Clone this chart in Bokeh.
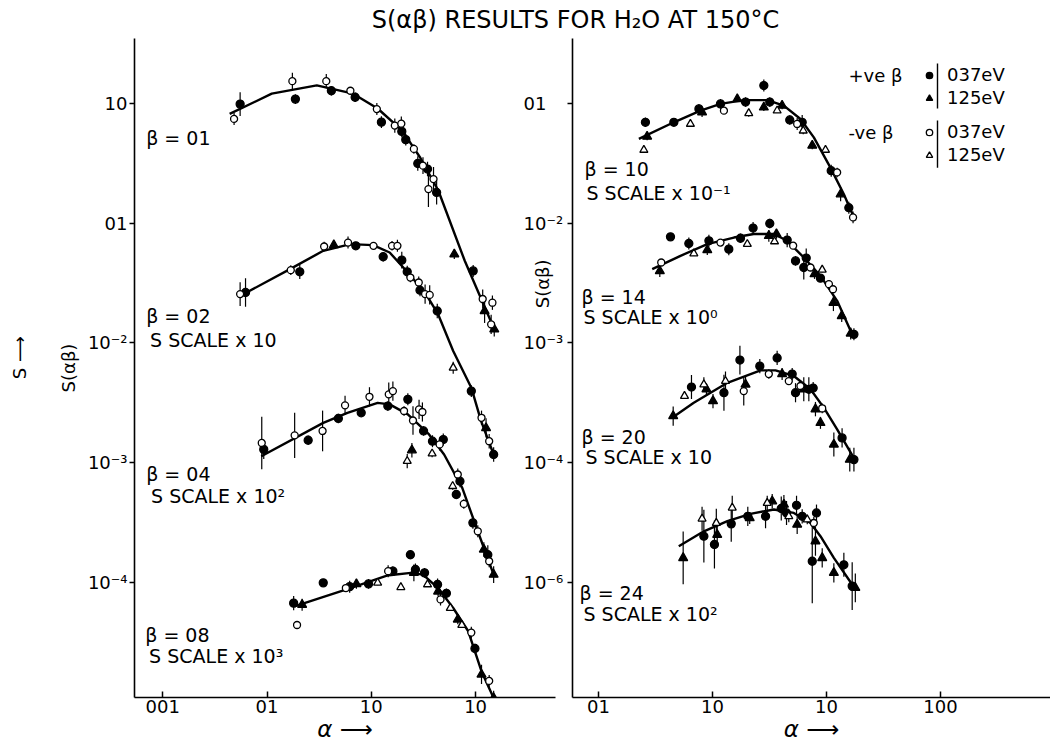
import math
from bokeh.plotting import figure
from bokeh.models import (ColumnDataSource, FixedTicker, Label, Legend, LegendItem, BoxAnnotation,
                          Range1d, LogScale, LogAxis)
from bokeh.layouts import column, row
from bokeh.embed import file_html
from bokeh.resources import INLINE

# ---------------- data (S already scaled as plotted) ----------------
# kinds: P1 = +ve beta 0.037 eV (filled circle), P2 = +ve beta 1.25 eV (filled triangle)
#        N1 = -ve beta 0.037 eV (open circle),   N2 = -ve beta 1.25 eV (open triangle)

# beta = 0.1
b01_fit_alpha = [0.0438, 0.111, 0.30, 0.67, 1.15, 1.98, 2.95, 4.40, 7.87, 14.9]
b01_fit_S = [0.82, 1.21, 1.42, 1.21, 0.91, 0.594, 0.353, 0.187, 0.0486, 0.0134]
b01_alpha = [0.0483, 0.0552, 0.175, 0.187, 0.37, 0.414, 0.63, 0.70, 1.13, 1.25, 1.68, 1.94, 1.96, 2.14,
             2.56, 2.79, 3.13, 3.46, 3.95, 3.53, 4.23, 6.25, 9.48, 11.7, 12.2, 14.5, 14.1, 15.1]
b01_S = [0.745, 0.99, 1.54, 1.09, 1.54, 1.28, 1.28, 1.13, 0.90, 0.70, 0.655, 0.68, 0.586, 0.50,
         0.418, 0.316, 0.303, 0.284, 0.234, 0.193, 0.181, 0.0552, 0.040, 0.0233, 0.0185, 0.0217, 0.0143, 0.013]
b01_err = [0.05, 0.10, 0.07, 0.04, 0.06, 0.04, 0.03, 0.04, 0.05, 0.05, 0.06, 0.06, 0.05, 0.05,
           0.04, 0.06, 0.07, 0.06, 0.10, 0.15, 0.10, 0.04, 0.05, 0.08, 0.10, 0.06, 0.08, 0.06]
b01_kind = ["N1", "P1", "N1", "P1", "N1", "P1", "N1", "P1", "N1", "P1", "N1", "N1", "P1", "P1",
            "N1", "P1", "N1", "P1", "N1", "N1", "P1", "P2", "P1", "N1", "P2", "N1", "N1", "P2"]

# beta = 0.2 (S scale x 10)
b02_fit_alpha = [0.0552, 0.166, 0.346, 0.63, 1.04, 1.50, 2.24, 3.34, 4.37, 6.10, 9.10, 11.3, 14.9]
b02_fit_S = [0.0247, 0.0414, 0.0589, 0.067, 0.0657, 0.057, 0.0388, 0.0256, 0.0174, 0.00857, 0.00423, 0.00222, 0.00117]
b02_alpha = [0.0552, 0.0622, 0.169, 0.206, 0.353, 0.437, 0.598, 0.71, 1.05, 1.30, 1.58, 1.78, 1.96,
             2.21, 2.37, 2.85, 2.93, 3.28, 3.63, 4.29, 6.1, 9.1, 11.4, 12.6, 13.5, 14.9]
b02_S = [0.0256, 0.0264, 0.0406, 0.0393, 0.064, 0.0657, 0.069, 0.0648, 0.0648, 0.0525, 0.0648, 0.0648, 0.0492,
         0.0393, 0.0352, 0.032, 0.0276, 0.0256, 0.0252, 0.0185, 0.0062, 0.00396, 0.00237, 0.00195, 0.00151, 0.00117]
b02_err = [0.10, 0.12, 0.04, 0.06, 0.04, 0.03, 0.05, 0.03, 0.03, 0.04, 0.04, 0.05, 0.07,
           0.05, 0.04, 0.05, 0.05, 0.08, 0.08, 0.06, 0.05, 0.05, 0.06, 0.08, 0.06, 0.06]
b02_kind = ["N1", "P1", "N1", "P1", "N1", "P2", "N1", "P1", "N1", "P1", "N1", "N1", "P1",
            "P1", "N1", "N1", "P1", "N1", "N1", "P1", "N2", "P1", "N1", "P2", "N1", "P1"]

# beta = 0.4 (S scale x 10^2)
b04_fit_alpha = [0.088, 0.346, 0.59, 1.15, 1.50, 2.24, 3.58, 4.99, 7.45, 10.5, 14.9]
b04_fit_S = [0.00113, 0.00215, 0.00261, 0.00316, 0.00307, 0.00253, 0.00172, 0.00117, 0.000615, 0.000267, 0.000116]
b04_alpha = [0.089, 0.093, 0.184, 0.248, 0.341, 0.483, 0.56, 0.80, 0.96, 1.44, 1.47, 1.61, 2.06, 2.24,
             2.51, 2.87, 3.09, 2.45, 2.21, 3.17, 3.86, 3.83, 4.52, 4.9, 6.75, 7.08, 6.03, 6.53, 7.71,
             9.42, 10.5, 12.0, 13.1, 13.5, 14.9]
b04_S = [0.00146, 0.00129, 0.00169, 0.00154, 0.00184, 0.00234, 0.00301, 0.00261, 0.00355, 0.00297, 0.00372,
         0.00396, 0.0027, 0.00338, 0.00225, 0.00279, 0.00265, 0.00127, 0.00103, 0.00184, 0.00151, 0.00119,
         0.00142, 0.00156, 0.000796, 0.0007, 0.000636, 0.000542, 0.000452, 0.000314, 0.000267, 0.000188,
         0.00017, 0.00015, 0.000116]
b04_err = [0.22, 0.08, 0.19, 0.04, 0.17, 0.04, 0.08, 0.03, 0.08, 0.04, 0.10, 0.08, 0.04, 0.05,
           0.12, 0.08, 0.08, 0.06, 0.06, 0.04, 0.05, 0.03, 0.05, 0.05, 0.05, 0.05, 0.03, 0.03, 0.04,
           0.05, 0.05, 0.06, 0.08, 0.05, 0.07]
b04_kind = ["N1", "P1", "N1", "P1", "N1", "P1", "N1", "P1", "N1", "P1", "N1", "N1", "N1", "P1",
            "N1", "N1", "N1", "P2", "N2", "P1", "P1", "N2", "N1", "P1", "N1", "P1", "N2", "P1", "N1",
            "P1", "N1", "P2", "P1", "N1", "P2"]

# beta = 0.8 (S scale x 10^3)
b08_fit_alpha = [0.183, 0.63, 1.41, 2.40, 3.13, 4.37, 6.10, 8.51, 11.4, 14.9]
b08_fit_S = [6.3e-5, 8.96e-5, 1.14e-4, 1.2e-4, 1.16e-4, 8.96e-5, 6.1e-5, 3.9e-5, 1.8e-5, 1.08e-5]
b08_alpha = [0.18, 0.217, 0.194, 0.346, 0.57, 0.62, 0.72, 0.94, 1.15, 1.45, 1.61, 1.92, 2.37, 2.56,
             2.65, 3.24, 3.46, 4.32, 4.37, 4.61, 5.25, 5.72, 6.75, 7.38, 9.1, 9.86, 11.4, 13.5, 14.9]
b08_S = [6.7e-5, 6.5e-5, 4.4e-5, 9.9e-5, 8.96e-5, 9.2e-5, 9.7e-5, 9.7e-5, 9.9e-5, 1.24e-4, 1.24e-4,
         9.1e-5, 1.7e-4, 1.2e-4, 1.28e-4, 1.2e-4, 9.6e-5, 9.6e-5, 8.4e-5, 7.2e-5, 8.1e-5, 6.1e-5,
         4.9e-5, 4.4e-5, 3.8e-5, 2.8e-5, 1.7e-5, 1.5e-5, 1.08e-5]
b08_err = [0.06, 0.05, 0.03, 0.03, 0.03, 0.05, 0.04, 0.04, 0.02, 0.05, 0.04, 0.02, 0.03, 0.07,
           0.05, 0.04, 0.02, 0.05, 0.04, 0.05, 0.04, 0.02, 0.04, 0.02, 0.05, 0.04, 0.08, 0.05, 0.06]
b08_kind = ["P1", "P2", "N1", "P1", "N1", "P1", "P2", "P1", "N2", "N1", "P1", "N2", "P1", "P2",
            "P1", "P1", "N2", "P1", "P2", "N1", "P1", "N2", "P2", "N2", "N1", "P1", "P2", "N1", "P2"]

# beta = 1.0 (S scale x 10^-1)
b10_fit_alpha = [0.226, 0.458, 0.785, 1.175, 1.88, 3.02, 4.22, 5.91, 7.74, 10.8, 14.2, 17.9]
b10_fit_S = [0.0507, 0.0698, 0.0873, 0.0994, 0.107, 0.107, 0.0962, 0.0744, 0.0522, 0.0293, 0.0175, 0.0105]
b10_alpha = [0.258, 0.267, 0.25, 0.458, 0.64, 0.76, 0.81, 1.175, 1.26, 1.65, 1.95, 2.08, 2.82, 2.82,
             3.18, 3.69, 4.08, 4.76, 5.53, 6.12, 6.25, 7.5, 9.8, 11.0, 12.4, 13.3, 15.7, 17.1]
b10_S = [0.0698, 0.053, 0.041, 0.0698, 0.0676, 0.0903, 0.0846, 0.0994, 0.0873, 0.109, 0.103, 0.083,
         0.1415, 0.093, 0.103, 0.0873, 0.0962, 0.073, 0.0676, 0.0698, 0.0594, 0.0446, 0.041, 0.0275,
         0.0266, 0.0175, 0.0135, 0.0112]
b10_err = [0.04, 0.03, 0.02, 0.03, 0.02, 0.04, 0.04, 0.04, 0.02, 0.02, 0.04, 0.03, 0.05, 0.03,
           0.04, 0.02, 0.03, 0.04, 0.05, 0.06, 0.03, 0.03, 0.02, 0.05, 0.04, 0.06, 0.05, 0.05]
b10_kind = ["P1", "P2", "N2", "P1", "N2", "P1", "P2", "P1", "N1", "P2", "P1", "N2", "P1", "P2",
            "P1", "N2", "P2", "P1", "N1", "P1", "N2", "P2", "N2", "P1", "N1", "P2", "P1", "N1"]

# beta = 1.4 (S scale x 10^0)
b14_fit_alpha = [0.296, 0.524, 0.90, 1.54, 2.30, 3.45, 4.52, 6.32, 8.85, 12.4, 16.3, 17.4]
b14_fit_S = [0.00414, 0.00535, 0.0067, 0.0076, 0.00813, 0.00813, 0.00714, 0.00518, 0.00364, 0.00225, 0.00126, 0.00115]
b14_alpha = [0.345, 0.355, 0.428, 0.62, 0.686, 0.90, 0.93, 1.175, 1.39, 1.76, 2.02, 2.27, 3.18, 3.12,
             3.5, 3.64, 4.52, 5.1, 5.35, 6.32, 6.64, 7.24, 7.85, 9.17, 8.85, 10.5, 11.4, 11.5, 13.6,
             16.3, 17.4]
b14_S = [0.004, 0.0047, 0.0077, 0.00678, 0.00559, 0.00597, 0.00714, 0.0069, 0.00608, 0.0075, 0.0067,
         0.00912, 0.00996, 0.00785, 0.00705, 0.00813, 0.00724, 0.0065, 0.00485, 0.00427, 0.00512, 0.00427,
         0.00376, 0.00409, 0.00348, 0.0031, 0.00281, 0.00217, 0.00168, 0.0012, 0.00118]
b14_err = [0.05, 0.03, 0.03, 0.05, 0.02, 0.04, 0.05, 0.02, 0.05, 0.04, 0.02, 0.05, 0.04, 0.05,
           0.02, 0.04, 0.06, 0.03, 0.04, 0.10, 0.08, 0.03, 0.04, 0.02, 0.03, 0.03, 0.03, 0.07, 0.05,
           0.05, 0.05]
b14_kind = ["P2", "N1", "P1", "P1", "N2", "P2", "P1", "N1", "P1", "P1", "N2", "P1", "P1", "P2",
            "N2", "P2", "P1", "N1", "P1", "P1", "P1", "N1", "P2", "N2", "P1", "N1", "N1", "P2", "P2",
            "P2", "P1"]

# beta = 2.0 (S scale x 10)
b20_fit_alpha = [0.443, 0.685, 1.35, 2.64, 3.57, 5.17, 7.24, 9.47, 12.4, 17.3]
b20_fit_S = [2.37e-4, 3.16e-4, 4.65e-4, 5.9e-4, 5.9e-4, 5.3e-4, 4.1e-4, 2.88e-4, 1.9e-4, 1.1e-4]
b20_alpha = [0.452, 0.568, 0.654, 0.84, 0.885, 1.01, 1.26, 1.30, 1.74, 1.95, 1.88, 2.6, 3.12, 3.69,
             4.08, 4.67, 5.0, 5.35, 5.91, 6.32, 7.0, 7.64, 8.0, 9.17, 8.85, 11.6, 13.7, 16.0, 17.4]
b20_S = [2.45e-4, 3.6e-4, 4.28e-4, 4.5e-4, 4.1e-4, 3.27e-4, 3.84e-4, 4.8e-4, 7.2e-4, 4.5e-4, 3.96e-4,
         6.4e-4, 5.5e-4, 7.5e-4, 5.5e-4, 4.8e-4, 5.5e-4, 3.84e-4, 4.37e-4, 4.1e-4, 4.1e-4, 4.2e-4,
         2.8e-4, 2.84e-4, 2.15e-4, 1.42e-4, 1.61e-4, 1.06e-4, 1.06e-4]
b20_err = [0.08, 0.02, 0.10, 0.06, 0.05, 0.06, 0.15, 0.08, 0.12, 0.08, 0.12, 0.06, 0.04, 0.06,
           0.05, 0.03, 0.05, 0.08, 0.05, 0.10, 0.10, 0.05, 0.06, 0.04, 0.05, 0.10, 0.08, 0.10, 0.10]
b20_kind = ["P2", "N2", "P1", "N2", "P2", "P2", "P1", "N2", "P1", "P2", "N1", "P1", "N1", "P1",
            "P2", "N1", "P1", "P1", "N1", "P2", "P1", "P1", "P2", "N1", "P2", "P2", "P1", "P2", "P1"]

# beta = 2.4 (S scale x 10^2)
b24_fit_alpha = [0.506, 0.84, 1.35, 2.15, 3.45, 5.17, 7.24, 8.85, 11.6, 16.8]
b24_fit_S = [2.0e-5, 2.67e-5, 3.24e-5, 3.73e-5, 4.06e-5, 3.8e-5, 3.13e-5, 2.43e-5, 1.6e-5, 9.6e-6]
b24_alpha = [0.553, 0.81, 0.84, 1.04, 1.08, 1.10, 1.46, 1.49, 2.04, 2.12, 2.92, 3.02, 3.34, 4.01,
             4.23, 4.46, 4.67, 5.46, 5.53, 6.12, 6.78, 7.5, 7.74, 8.0, 8.17, 9.17, 11.6, 14.2, 16.8, 17.9]
b24_S = [1.6e-5, 3.4e-5, 2.43e-5, 2.07e-5, 3.13e-5, 2.5e-5, 3.08e-5, 4.2e-5, 3.56e-5, 3.45e-5, 3.56e-5,
         4.6e-5, 4.76e-5, 4.14e-5, 4.47e-5, 3.8e-5, 3.56e-5, 4.4e-5, 3.04e-5, 3.56e-5, 3.35e-5, 1.5e-5,
         3.13e-5, 2.2e-5, 3.8e-5, 1.6e-5, 1.2e-5, 1.4e-5, 9.3e-6, 9.0e-6]
b24_err = [0.22, 0.10, 0.22, 0.20, 0.12, 0.10, 0.15, 0.10, 0.08, 0.05, 0.10, 0.06, 0.06, 0.10,
           0.08, 0.10, 0.05, 0.08, 0.08, 0.06, 0.04, 0.35, 0.05, 0.12, 0.07, 0.08, 0.08, 0.10, 0.20, 0.12]
b24_kind = ["P2", "N2", "P1", "P1", "N2", "P2", "P1", "N2", "P1", "P2", "P1", "N2", "P2", "P1",
            "P2", "P1", "N2", "P1", "P2", "P1", "N2", "P1", "N1", "P2", "P1", "P2", "P2", "P1", "P1", "P2"]

# tick labels (as printed)
left_x_ticks = [0.01, 0.1, 1.0, 10.0]
left_x_labels = ["001", "01", "10", "10"]
right_x_ticks = [0.1, 1.0, 10.0, 100.0]
right_x_labels = ["01", "10", "10", "100"]
left_y_ticks = [1e-4, 1e-3, 1e-2, 0.1, 1.0]
left_y_labels = ["10⁻⁴", "10⁻³", "10⁻²", "01", "10"]
right_y_ticks = [1e-5, 1e-4, 1e-3, 1e-2, 0.1]
right_y_labels = ["10⁻⁶", "10⁻⁴", "10⁻³", "10⁻²", "01"]

legend_labels = {"P1": "037eV", "P2": "125eV", "N1": "037eV", "N2": "125eV"}

# ---------------- styling ----------------
FONT = "DejaVu Sans"
TICK_FS = "18px"
MARK = {
    "P1": dict(marker="circle", size=8, fill_color="black"),
    "P2": dict(marker="triangle", size=9, fill_color="black"),
    "N1": dict(marker="circle", size=7, fill_color="white"),
    "N2": dict(marker="triangle", size=8, fill_color="white"),
}

# pixel geometry (layout only)
H_TOP = 38
FIG_H = 744 - H_TOP
FRAME_BOTTOM = 696
S_W = 40                 # narrow strip with the outer "S" label
L_W = 526                # left panel figure (frame 134..566)
R_W = 1050 - S_W - L_W   # right panel figure (frame 572..1050)
L_BORDER = 134 - S_W
R_BORDER = 6


def lx(px):
    return 10 ** (-2 + (px - 163) / 107)


def rx(px):
    return 10 ** (-1 + (px - 598) / 114)


def ly(py):
    return 10 ** (-(py - 103) / 119.5)


def ry(py):
    return 10 ** (-1 - (py - 103) / 119.5)


def style_axis(ax):
    ax.axis_line_width = 1.6
    ax.axis_line_color = "black"
    ax.major_tick_line_width = 1.5
    ax.major_tick_line_color = "black"
    ax.minor_tick_line_color = None
    ax.major_label_text_font = FONT
    ax.major_label_text_font_size = TICK_FS
    ax.major_label_text_color = "black"


def make_fig(width, border_left, xr, yr):
    p = figure(width=width, height=FIG_H, x_axis_type="log", y_axis_type="log",
               x_range=xr, y_range=yr, output_backend="svg", toolbar_location=None,
               min_border_left=border_left, min_border_right=0, min_border_top=0,
               min_border_bottom=0, background_fill_color="white", border_fill_color="white")
    p.outline_line_color = None
    p.xgrid.visible = False
    p.ygrid.visible = False
    style_axis(p.xaxis[0])
    style_axis(p.yaxis[0])
    p.xaxis[0].major_tick_in = 6
    p.xaxis[0].major_tick_out = 0
    p.xaxis[0].major_label_standoff = 2
    p.yaxis[0].major_tick_in = 0
    p.yaxis[0].major_tick_out = 5
    p.yaxis[0].major_label_standoff = 2
    p.xaxis[0].axis_label = "α ⟶"
    p.xaxis[0].axis_label_text_font = FONT
    p.xaxis[0].axis_label_text_font_size = "23px"
    p.xaxis[0].axis_label_text_font_style = "italic"
    p.xaxis[0].axis_label_text_color = "black"
    p.xaxis[0].axis_label_standoff = 0
    return p


left = make_fig(L_W, L_BORDER, (lx(134), lx(566)), (ly(FRAME_BOTTOM), ly(H_TOP)))
right = make_fig(R_W, R_BORDER, (rx(572), rx(1050)), (ry(FRAME_BOTTOM), ry(H_TOP)))

left.xaxis[0].ticker = FixedTicker(ticks=left_x_ticks, minor_ticks=[])
left.xaxis[0].major_label_overrides = dict(zip(left_x_ticks, left_x_labels))
left.yaxis[0].ticker = FixedTicker(ticks=left_y_ticks, minor_ticks=[])
left.yaxis[0].major_label_overrides = dict(zip(left_y_ticks, left_y_labels))
left.yaxis[0].axis_label = "S(αβ)"
left.yaxis[0].axis_label_text_font = FONT
left.yaxis[0].axis_label_text_font_size = "18px"
left.yaxis[0].axis_label_text_font_style = "normal"
left.yaxis[0].axis_label_text_color = "black"
left.yaxis[0].axis_label_standoff = 6

# right panel: its own y axis shows line + ticks; its tick labels are drawn just left of it
right.xaxis[0].ticker = FixedTicker(ticks=right_x_ticks, minor_ticks=[])
right.xaxis[0].major_label_overrides = dict(zip(right_x_ticks, right_x_labels))
right.yaxis[0].ticker = FixedTicker(ticks=right_y_ticks, minor_ticks=[])
right.yaxis[0].major_label_overrides = {t: "" for t in right_y_ticks}
right.yaxis[0].major_label_text_font_size = "0px"
right.yaxis[0].major_label_standoff = 0

left.extra_y_ranges = {"rys": Range1d(ry(FRAME_BOTTOM), ry(H_TOP))}
left.extra_y_scales = {"rys": LogScale()}
rlab_axis = LogAxis(y_range_name="rys", ticker=FixedTicker(ticks=right_y_ticks, minor_ticks=[]))
style_axis(rlab_axis)
rlab_axis.major_label_overrides = dict(zip(right_y_ticks, right_y_labels))
rlab_axis.axis_line_color = None
rlab_axis.major_tick_line_color = None
rlab_axis.major_tick_in = 0
rlab_axis.major_tick_out = 0
rlab_axis.major_label_standoff = -32
left.add_layout(rlab_axis, "right")

left_sets = [
    (b01_fit_alpha, b01_fit_S, b01_alpha, b01_S, b01_err, b01_kind),
    (b02_fit_alpha, b02_fit_S, b02_alpha, b02_S, b02_err, b02_kind),
    (b04_fit_alpha, b04_fit_S, b04_alpha, b04_S, b04_err, b04_kind),
    (b08_fit_alpha, b08_fit_S, b08_alpha, b08_S, b08_err, b08_kind),
]
right_sets = [
    (b10_fit_alpha, b10_fit_S, b10_alpha, b10_S, b10_err, b10_kind),
    (b14_fit_alpha, b14_fit_S, b14_alpha, b14_S, b14_err, b14_kind),
    (b20_fit_alpha, b20_fit_S, b20_alpha, b20_S, b20_err, b20_kind),
    (b24_fit_alpha, b24_fit_S, b24_alpha, b24_S, b24_err, b24_kind),
]


def draw_panel(p, sets):
    for fa, fs, *_ in sets:
        p.line(fa, fs, line_color="black", line_width=2.4)
    groups = {k: dict(x=[], y=[], lo=[], hi=[]) for k in MARK}
    for _, _, a, s, e, kinds in sets:
        for ai, si, ei, ki in zip(a, s, e, kinds):
            g = groups[ki]
            g["x"].append(ai)
            g["y"].append(si)
            g["lo"].append(si * 10 ** (-ei))
            g["hi"].append(si * 10 ** ei)
    srcs = {k: ColumnDataSource(g) for k, g in groups.items()}
    for k, src in srcs.items():
        p.segment(x0="x", y0="lo", x1="x", y1="hi", source=src, line_color="black", line_width=1.2)
    rends = {}
    for k, src in srcs.items():
        m = MARK[k]
        rends[k] = p.scatter(x="x", y="y", source=src, marker=m["marker"], size=m["size"],
                             fill_color=m["fill_color"], line_color="black", line_width=1.3)
    return rends


draw_panel(left, left_sets)
rr = draw_panel(right, right_sets)


def add_text(p, x, y, text, size="19px", angle=0.0, align="left"):
    p.add_layout(Label(x=x, y=y, text=text, text_font=FONT, text_font_size=size,
                       text_color="black", text_baseline="middle", text_align=align, angle=angle))


# left panel annotations
add_text(left, lx(146), ly(137), "β = 01")
add_text(left, lx(146), ly(315), "β = 02")
add_text(left, lx(150), ly(339), "S SCALE x 10")
add_text(left, lx(146), ly(473), "β = 04")
add_text(left, lx(151), ly(495), "S SCALE x 10²")
add_text(left, lx(145), ly(634), "β = 08")
add_text(left, lx(149), ly(655), "S SCALE x 10³")
# y-axis name of the right panel (sits beside its tick labels)
add_text(left, lx(553), ly(283), "S(αβ)", size="18px", angle=math.pi / 2, align="center")

# right panel annotations
add_text(right, rx(584), ry(168), "β = 10")
add_text(right, rx(586), ry(192), "S SCALE x 10⁻¹")
add_text(right, rx(581), ry(296), "β = 14")
add_text(right, rx(583), ry(316), "S SCALE x 10⁰")
add_text(right, rx(581), ry(436), "β = 20")
add_text(right, rx(585), ry(456), "S SCALE x 10")
add_text(right, rx(579), ry(592), "β = 24")
add_text(right, rx(583), ry(613), "S SCALE x 10²")
add_text(right, rx(848), ry(75), "+ve β", size="18px")
add_text(right, rx(848), ry(132), "-ve β", size="18px")

for y0, y1 in ((63, 108), (120, 167)):
    right.add_layout(BoxAnnotation(left=rx(936.3), right=rx(937.7), top=ry(y0), bottom=ry(y1),
                                   fill_color="black", fill_alpha=1, line_color=None))


def make_legend(k1, k2, loc):
    return Legend(items=[LegendItem(label=legend_labels[k1], renderers=[rr[k1]]),
                         LegendItem(label=legend_labels[k2], renderers=[rr[k2]])],
                  location=loc, orientation="vertical", glyph_width=16, glyph_height=20,
                  label_height=20, spacing=2, padding=0, margin=0, label_standoff=10,
                  border_line_color=None, background_fill_alpha=0,
                  label_text_font=FONT, label_text_font_size="18px", label_text_color="black")


right.add_layout(make_legend("P1", "P2", (349, FRAME_BOTTOM - 107)))
right.add_layout(make_legend("N1", "N2", (349, FRAME_BOTTOM - 164)))

# narrow strip on the far left with the outer axis name
strip = figure(width=S_W, height=FIG_H, x_range=(0, S_W), y_range=(FIG_H, 0),
               output_backend="svg", toolbar_location=None, x_axis_location=None,
               y_axis_location=None, min_border=0, background_fill_color="white",
               border_fill_color="white")
strip.outline_line_color = None
strip.xgrid.visible = False
strip.ygrid.visible = False
strip.add_layout(Label(x=19, y=380 - H_TOP, text="S ⟶", text_font=FONT, text_font_size="18px",
                       text_color="black", text_align="center", text_baseline="middle",
                       angle=math.pi / 2))

# header with title
head = figure(width=1050, height=H_TOP, x_range=(0, 1050), y_range=(H_TOP, 0),
              output_backend="svg", toolbar_location=None, x_axis_location=None,
              y_axis_location=None, min_border=0, background_fill_color="white",
              border_fill_color="white")
head.outline_line_color = None
head.xgrid.visible = False
head.ygrid.visible = False
head.add_layout(Label(x=575, y=19, text="S(αβ) RESULTS FOR H₂O AT 150°C", text_font=FONT,
                      text_font_size="24px", text_color="black", text_align="center",
                      text_baseline="middle"))

layout = column(head, row(strip, left, right, spacing=0), spacing=0)
open("out.html", "w").write(file_html(layout, INLINE))
